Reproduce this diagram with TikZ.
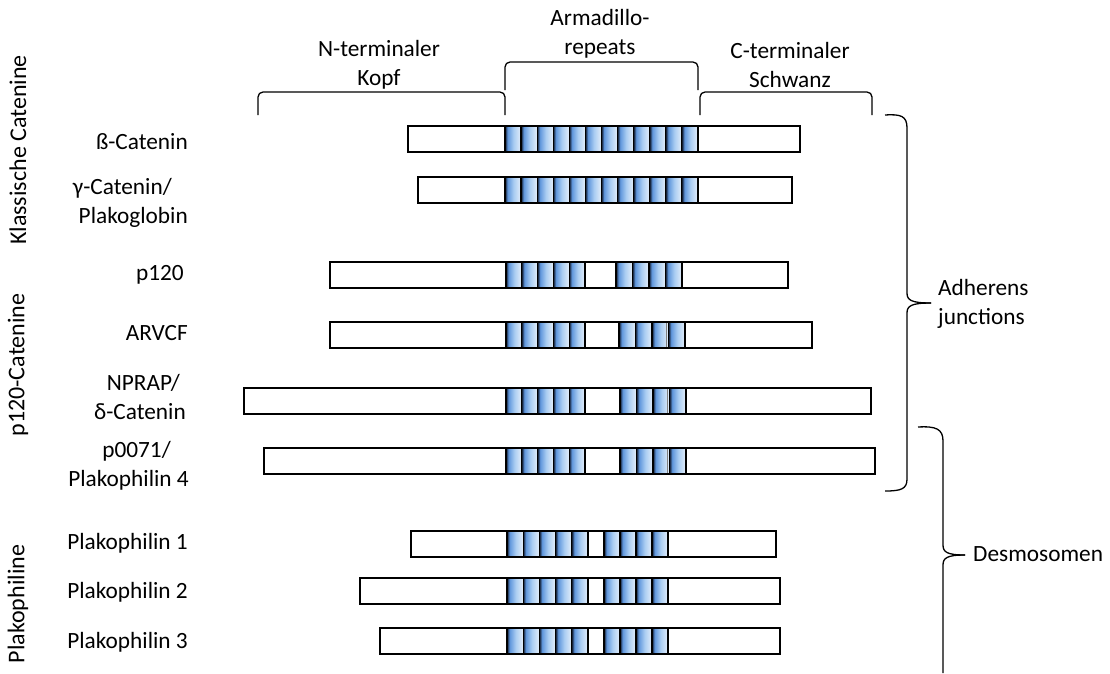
\documentclass[tikz,border=0pt]{standalone}
\usepackage{fontspec}
\setmainfont{Carlito}
\definecolor{repdark}{RGB}{15,25,45}
\definecolor{repmid}{RGB}{95,150,220}
\definecolor{replight}{RGB}{170,205,242}
\definecolor{repvlight}{RGB}{228,238,250}
\pgfdeclarehorizontalshading{rep}{100bp}{color(0bp)=(repdark); color(25bp)=(repdark); color(33bp)=(repmid); color(52bp)=(replight); color(75bp)=(repvlight); color(100bp)=(repvlight)}
\begin{document}
\begin{tikzpicture}[x=1pt,y=-1pt,
  font=\fontsize{23.3}{28.5}\selectfont,
  prot/.style={draw, line width=2.4pt, fill=white, minimum height=26pt, inner sep=0pt, outer sep=0pt},
  outline/.style={line width=2.4pt},
  sep/.style={line width=1.2pt},
  lbl/.style={anchor=east, inner sep=0pt},
  grp/.style={inner sep=0pt, rotate=90, font=\fontsize{24}{28}\selectfont},
  brk/.style={line width=1.3pt, rounded corners=5pt},
  cbrace/.style={line width=1.3pt}]
\useasboundingbox (0,0) rectangle (1110,673);

% ---------- top brackets ----------
\coordinate (nL) at (258,115); \coordinate (nR) at (505,115);
\coordinate (aL) at (505,90);  \coordinate (aR) at (698,90);
\coordinate (cL) at (700,115); \coordinate (cR) at (872,115);
\draw[brk] (nL) |- (381,92) -| (nR);
\draw[brk] (aL) |- (600,62) -| (aR);
\draw[brk] (cL) |- (786,92) -| (cR);
\node[align=center, inner sep=0pt] (tN) at (379,65) {N-terminaler\\Kopf};
\node[align=center, inner sep=0pt] (tA) at (600,34) {Armadillo-\\repeats};
\node[align=center, inner sep=0pt] (tC) at (790,65) {C-terminaler\\Schwanz};

% ---------- classic catenins: 12 repeats ----------
\foreach \n/\l/\r/\y in {pb/408/800/139, pg/418/792/190} {
  \node[prot, minimum width=\r-\l] (\n) at ({(\l+\r)/2},\y) {};
  \foreach \i in {0,...,11} {
    \shade[shading=rep] ({505+\i*16.08},\y-13) rectangle ++(16.08,26);
    \draw[sep] ({505+\i*16.08},\y-13) -- ++(0,26);
  }
  \draw[sep] (698,\y-13) -- ++(0,26);
  \draw[outline] (\n.north west) rectangle (\n.south east);
}

% ---------- p120 catenins: 5 + 4 repeats ----------
\foreach \n/\l/\r/\y/\s in {pp/330/788/275/616, pa/330/812/335/619, pn/244/871/401/620, po/264/875/461/620} {
  \node[prot, minimum width=\r-\l] (\n) at ({(\l+\r)/2},\y) {};
  \foreach \i in {0,...,4} {
    \shade[shading=rep] ({506+\i*15.8},\y-13) rectangle ++(15.8,26);
    \draw[sep] ({506+\i*15.8},\y-13) -- ++(0,26);
  }
  \draw[sep] (585,\y-13) -- ++(0,26);
  \foreach \i in {0,...,3} {
    \shade[shading=rep] ({\s+\i*16.5},\y-13) rectangle ++(16.5,26);
    \draw[sep] ({\s+\i*16.5},\y-13) -- ++(0,26);
  }
  \draw[sep] ({\s+66},\y-13) -- ++(0,26);
  \draw[outline] (\n.north west) rectangle (\n.south east);
}
\foreach \y/\s in {335/619, 401/620, 461/620} {
  \draw[line width=0.7pt, gray] ({\s+47},\y-12) -- ++(0,24);
}

% ---------- plakophilins: 5 + 4 repeats ----------
\foreach \n/\l/\r/\y in {p1/411/776/544, p2/360/780/591, p3/380/780/641} {
  \node[prot, minimum width=\r-\l] (\n) at ({(\l+\r)/2},\y) {};
  \foreach \i in {0,...,4} {
    \shade[shading=rep] ({507+\i*16.2},\y-13) rectangle ++(16.2,26);
    \draw[sep] ({507+\i*16.2},\y-13) -- ++(0,26);
  }
  \draw[sep] (588,\y-13) -- ++(0,26);
  \foreach \i in {0,...,3} {
    \shade[shading=rep] ({604+\i*16},\y-13) rectangle ++(16,26);
    \draw[sep] ({604+\i*16},\y-13) -- ++(0,26);
  }
  \draw[sep] (668,\y-13) -- ++(0,26);
  \draw[outline] (\n.north west) rectangle (\n.south east);
}

% ---------- row labels ----------
\node[lbl] (lb) at (188,142) {ß-Catenin};
\node[lbl, align=right] (lg) at (188,203) {γ-Catenin/\hspace*{16pt}\\Plakoglobin};
\node[lbl] (lp) at (184,275) {p120};
\node[lbl] (la) at (188,333) {ARVCF};
\node[lbl, align=right] (ln) at (186,397) {NPRAP/\hspace*{6pt}\\δ-Catenin};
\node[lbl, align=right] (lo) at (189,466) {p0071/\hspace*{18pt}\\Plakophilin 4};
\node[lbl] (l1) at (188,543) {Plakophilin 1};
\node[lbl] (l2) at (188,592) {Plakophilin 2};
\node[lbl] (l3) at (188,642) {Plakophilin 3};

% ---------- group labels (left, rotated) ----------
\node[grp] (gK) at (18,150) {Klassische Catenine};
\node[grp] (gP) at (18,365) {p120-Catenine};
\node[grp] (gL) at (18,604) {Plakophiline};

% ---------- right braces ----------
\coordinate (adT) at (885,115);
\coordinate (adM) at (931,303);
\coordinate (adB) at (885,491);
\draw[cbrace] (adT) .. controls (901,114) and (907,116) .. (907,128)
  -- (907,293) .. controls (907,300) and (911,303) .. (adM);
\draw[cbrace] (adM) .. controls (911,303) and (907,306) .. (907,313)
  -- (907,479) .. controls (907,489) and (901,491) .. (adB);
\node[anchor=west, align=left, inner sep=0pt] (tAd) at (938,304) {Adherens\\junctions};

\coordinate (deT) at (918,427);
\coordinate (deM) at (965,555);
\coordinate (deB) at (943,673);
\draw[cbrace] (deT) .. controls (936,426) and (943,429) .. (943,441)
  -- (943,545) .. controls (943,552) and (947,555) .. (deM);
\draw[cbrace] (deM) .. controls (947,555) and (943,558) .. (943,565)
  -- (deB);
\node[anchor=west, inner sep=0pt] (tDe) at (973,554) {Desmosomen};
\end{tikzpicture}
\end{document}
